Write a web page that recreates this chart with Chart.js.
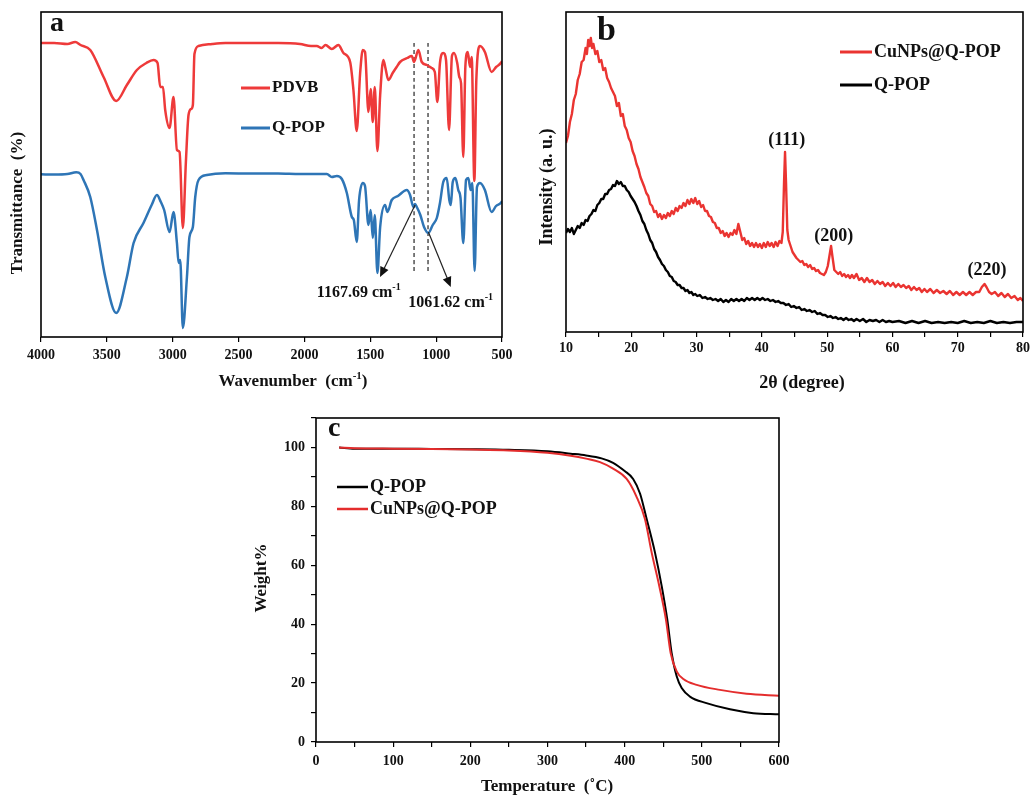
<!DOCTYPE html>
<html>
<head>
<meta charset="utf-8">
<script src="https://cdn.jsdelivr.net/npm/chart.js@4.4.0/dist/chart.umd.min.js"></script>
<style>
html, body { margin: 0; padding: 0; background: #fff; }
body { width: 1033px; height: 797px; position: relative; overflow: hidden; }
canvas { position: absolute; }
#ftir { left: 0; top: 0; }
#xrd { left: 520px; top: 0; }
#tga { left: 230px; top: 400px; }
</style>
</head>
<body>
<canvas id="ftir" width="520" height="400"></canvas>
<canvas id="xrd" width="513" height="400"></canvas>
<canvas id="tga" width="570" height="397"></canvas>
<script>
// ---- (a) FTIR, transmittance in arbitrary units ----
const pdvbWave = [4000, 3900, 3800, 3740, 3700, 3626, 3525, 3429, 3348, 3272, 3200, 3146, 3115, 3095, 3074, 3057, 3024, 2994, 2968, 2948,
  2923, 2900, 2880, 2860, 2847, 2835, 2804, 2700, 2600, 2400, 2200, 2033, 1950, 1906, 1870, 1840, 1792, 1742, 1704, 1653,
  1628, 1603, 1577, 1557, 1540, 1514, 1497, 1481, 1466, 1446, 1425, 1401, 1385, 1363, 1330, 1300, 1274, 1220, 1185, 1168,
  1135, 1109, 1071, 1034, 1010, 991, 971, 946, 925, 902, 880, 864, 840, 824, 811, 794, 778, 760, 743, 730,
  710, 695, 667, 630, 579, 545, 503, 500];
const pdvbT = [294, 294, 293, 295, 292, 287, 260, 236, 252, 267, 274, 277, 274, 250, 250, 227, 209, 240, 187, 185,
  109, 175, 222, 228, 232, 283, 291, 293, 294, 294, 294, 293, 291, 291, 289, 292, 288, 292, 284, 275,
  247, 206, 264, 287, 285, 225, 248, 215, 250, 186, 242, 277, 269, 257, 264, 270, 275, 279, 281, 275,
  287, 275, 272, 269, 265, 235, 274, 284, 277, 207, 281, 284, 274, 260, 254, 180, 271, 285, 270, 280,
  156, 257, 291, 285, 265, 270, 275, 276];

const qpopWave = [4000, 3900, 3800, 3732, 3700, 3677, 3626, 3575, 3512, 3429, 3348, 3297, 3222, 3160, 3120, 3090, 3065, 3024, 2994, 2968,
  2955, 2943, 2923, 2892, 2873, 2847, 2829, 2804, 2741, 2600, 2400, 2200, 2033, 1900, 1830, 1792, 1754, 1716, 1678, 1640,
  1625, 1603, 1585, 1557, 1540, 1514, 1497, 1481, 1466, 1446, 1425, 1388, 1370, 1337, 1290, 1223, 1198, 1173, 1160, 1147,
  1120, 1092, 1059, 1026, 995, 971, 946, 920, 900, 889, 874, 854, 832, 815, 794, 773, 756, 738, 725, 708,
  690, 667, 630, 579, 545, 503, 500];
const qpopT = [162.7, 162.5, 163, 164.7, 163, 157, 140, 107, 60, 24, 60, 94, 114, 132, 142, 135, 127, 105, 125, 94,
  74, 77, 9, 60, 100, 110, 140, 157, 162, 163.7, 163.5, 163.5, 163, 163, 163, 160, 161, 158, 144, 120,
  117, 95, 137, 154, 151, 112, 127, 99, 122, 64, 110, 132, 125, 137, 141, 147, 142, 130, 133, 130,
  122, 110, 104, 112, 119, 134, 155, 159, 137, 132, 155, 159, 147, 139, 94, 157, 159, 147, 154, 66,
  150, 154, 147, 125, 131, 135, 136];

const markWave = [1167.69, 1061.62];
const markTop = 294;
const markBottom = 65;
const noteText = ['1167.69 cm', '1061.62 cm'];
const noteWave = [1906, 1211];
const noteT = [44, 34];
const arrowFromWave = [1160, 1059];
const arrowFromT = [132, 105];
const arrowToWave = [1426, 889];
const arrowToT = [60, 50];

// ---- (b) XRD, intensity in arbitrary units ----
const xrdCuNPs = [[10.0,189],[10.3,196],[10.6,210],[10.9,218],[11.2,232],[11.5,238],[11.8,252],[12.1,258],[12.4,270],[12.7,272],
  [13.0,284],[13.2,278],[13.4,292],[13.6,286],[13.8,294],[14.0,284],[14.2,288],[14.5,278],[14.8,281],[15.1,270],
  [15.4,272],[15.7,262],[16.0,264],[16.3,254],[16.6,250],[16.9,244],[17.2,240],[17.5,236],[17.8,226],[18.1,229],
  [18.4,216],[18.7,218],[19.0,206],[19.3,202],[19.6,194],[19.9,190],[20.2,181],[20.5,176],[20.8,168],[21.1,163],
  [21.4,155],[21.7,150],[22.0,145],[22.3,139],[22.6,136],[22.9,128],[23.2,126],[23.5,120],[23.8,121],[24.1,115],
  [24.4,118],[24.7,113],[25.0,117],[25.3,114],[25.6,119],[25.9,116],[26.2,121],[26.5,118],[26.8,124],[27.1,121],
  [27.4,126],[27.7,124],[28.0,129],[28.3,126],[28.6,132],[28.9,128],[29.2,133],[29.5,129],[29.8,134],[30.1,128],
  [30.4,131],[30.7,125],[31.0,127],[31.3,121],[31.6,121],[31.9,116],[32.2,115],[32.5,110],[32.8,109],[33.1,104],
  [33.4,104],[33.7,99],[34.0,101],[34.3,96],[34.6,99],[34.9,95],[35.2,99],[35.5,97],[35.8,102],[36.1,98],
  [36.4,108],[36.7,100],[37.0,92],[37.3,94],[37.6,88],[37.9,91],[38.2,86],[38.5,89],[38.8,85],[39.1,89],
  [39.4,85],[39.7,88],[40.0,84],[40.3,89],[40.6,85],[40.9,90],[41.2,86],[41.5,89],[41.8,85],[42.1,90],
  [42.4,86],[42.7,91],[43.0,89],[43.2,100],[43.4,150],[43.55,180],[43.7,150],[43.9,102],[44.1,92],[44.4,86],
  [44.7,80],[45.0,77],[45.3,74],[45.6,72],[45.9,70],[46.2,71],[46.5,67],[46.8,68],[47.1,65],[47.4,67],
  [47.7,63],[48.0,64],[48.3,61],[48.6,62],[48.9,59],[49.2,58],[49.5,57],[49.8,60],[50.1,66],[50.4,78],
  [50.6,86],[50.8,76],[51.1,62],[51.4,60],[51.7,58],[52.0,60],[52.3,56],[52.6,58],[52.9,55],[53.2,57],
  [53.5,54],[53.8,57],[54.1,54],[54.5,58],[54.9,52],[55.3,54],[55.7,50],[56.1,54],[56.5,50],[56.9,52],
  [57.3,48],[57.7,51],[58.1,48],[58.5,50],[58.9,46],[59.3,49],[59.7,46],[60.1,49],[60.5,45],[60.9,48],
  [61.3,45],[61.7,47],[62.1,44],[62.5,46],[62.9,42],[63.3,45],[63.7,42],[64.1,44],[64.5,40],[64.9,43],
  [65.3,40],[65.8,43],[66.3,39],[66.8,42],[67.3,39],[67.8,41],[68.3,38],[68.8,41],[69.3,37],[69.8,40],
  [70.3,37],[70.8,40],[71.3,37],[71.8,40],[72.3,37],[72.8,40],[73.3,40],[73.7,45],[74.1,48],[74.4,45],
  [74.8,40],[75.2,38],[75.7,40],[76.2,36],[76.7,39],[77.2,35],[77.7,38],[78.2,34],[78.7,36],[79.2,32],
  [79.6,34],[80.0,31]];
const xrdQPOP = [[10.0,99],[10.3,103],[10.6,100],[10.9,104],[11.2,98],[11.5,102],[11.8,106],[12.1,104],[12.4,109],[12.7,107],
  [13.0,112],[13.3,111],[13.6,116],[13.9,118],[14.2,122],[14.5,121],[14.8,127],[15.1,129],[15.4,133],[15.7,133],
  [16.0,138],[16.3,138],[16.6,142],[16.9,143],[17.2,147],[17.5,146],[17.8,151],[18.1,148],[18.4,150],[18.7,146],
  [19.0,146],[19.3,142],[19.6,140],[19.9,136],[20.2,133],[20.5,130],[20.8,126],[21.1,121],[21.4,117],[21.7,111],
  [22.0,108],[22.3,102],[22.6,98],[22.9,92],[23.2,89],[23.5,83],[23.8,80],[24.1,75],[24.4,72],[24.7,68],
  [25.0,66],[25.3,62],[25.6,60],[25.9,56],[26.2,55],[26.5,51],[26.8,50],[27.1,47],[27.4,47],[27.7,44],
  [28.0,44],[28.3,41],[28.6,42],[28.9,39],[29.2,40],[29.5,37],[29.8,38],[30.1,36],[30.5,37],[30.9,34],
  [31.3,35],[31.7,33],[32.1,34],[32.5,32],[32.9,33],[33.3,31],[33.7,33],[34.1,30],[34.5,32],[34.9,30],
  [35.3,33],[35.7,31],[36.1,33],[36.5,31],[36.9,33],[37.3,31],[37.7,34],[38.1,32],[38.5,34],[38.9,32],
  [39.3,34],[39.7,32],[40.1,34],[40.5,32],[40.9,33],[41.3,31],[41.7,32],[42.1,30],[42.5,31],[42.9,29],
  [43.3,29],[43.7,27],[44.1,28],[44.5,25],[44.9,26],[45.3,24],[45.7,25],[46.1,22],[46.5,23],[46.9,21],
  [47.3,22],[47.7,20],[48.1,21],[48.5,18],[48.9,19],[49.3,17],[49.7,17],[50.1,15],[50.5,16],[50.9,14],
  [51.3,15],[51.7,13],[52.1,14],[52.5,12],[52.9,14],[53.3,12],[53.7,13],[54.1,11],[54.5,13],[55.0,11],
  [55.5,13],[56.0,10],[56.5,12],[57.0,11],[57.5,12],[58.0,10],[58.5,12],[59.0,10],[59.5,11],[60.0,10],
  [61.0,11],[62.0,9],[63.0,11],[64.0,9],[65.0,11],[66.0,9],[67.0,10],[68.0,9],[69.0,10],[70.0,9],
  [71.0,11],[72.0,9],[73.0,10],[74.0,9],[75.0,11],[76.0,9],[77.0,10],[78.0,9],[79.0,10],[80.0,10]];
const peakText = ['(111)', '(200)', '(220)'];
const peakTheta = [43.8, 51.0, 74.5];
const peakInt = [192, 96, 62];

// ---- (c) TGA ----
const tgaQTemp = [30, 50, 100, 150, 200, 250, 300, 330, 350, 370, 385, 400, 411, 420, 428.5, 439.3, 448, 455.2, 460.9, 467.4,
  473.9, 484.6, 506, 536.5, 566.7, 600];
const tgaQWeight = [100.0, 99.6, 99.6, 99.5, 99.4, 99.2, 98.7, 97.9, 97.3, 96.3, 94.8, 92.0, 89.3, 84.3, 75.7, 64.3, 52.9, 41.6, 30.2, 22.3,
  18.3, 15.4, 13.2, 11.1, 9.8, 9.4];
const tgaCuTemp = [30, 50, 100, 150, 200, 250, 300, 330, 350, 368, 385, 402.6, 415, 426.3, 435, 444.9, 453.5, 459.6, 467.4, 476,
  493.3, 523.5, 558, 600];
const tgaCuWeight = [100.0, 99.7, 99.6, 99.5, 99.3, 99.0, 98.2, 97.2, 96.2, 95.0, 92.8, 89.3, 83.5, 75.7, 64.3, 52.9, 41.6, 30.2, 24.0, 21.4,
  19.4, 17.7, 16.4, 15.7];

const SERIF = '"Liberation Serif", "Times New Roman", serif';
const tickFont = { family: SERIF, size: 14, weight: 'bold' };

function pts(xs, ys) {
  return xs.map((x, i) => ({ x: x, y: ys[i] }));
}
function pairs(list) {
  return list.map(p => ({ x: p[0], y: p[1] }));
}

// text with optional superscript parts: parts = ['text', ['sup', true], ...]
function drawRich(ctx, t) {
  const big = 'bold ' + t.size + 'px ' + SERIF;
  const small = 'bold ' + Math.round(t.size * 0.62) + 'px ' + SERIF;
  const parts = t.parts.map(p => typeof p === 'string' ? [p, false] : p);
  let w = 0;
  parts.forEach(p => { ctx.font = p[1] ? small : big; w += ctx.measureText(p[0]).width; });
  ctx.save();
  ctx.translate(t.x, t.y);
  if (t.rot) ctx.rotate(-Math.PI / 2);
  ctx.textAlign = 'left';
  ctx.textBaseline = 'middle';
  ctx.fillStyle = t.color || '#111';
  let x = t.align === 'left' ? 0 : -w / 2;
  parts.forEach(p => {
    ctx.font = p[1] ? small : big;
    ctx.fillText(p[0], x, p[1] ? -t.size * 0.33 : 0);
    x += ctx.measureText(p[0]).width;
  });
  ctx.restore();
}

// frame, titles, legend, annotations
const decor = {
  id: 'decor',
  afterDraw(chart, args, o) {
    const ctx = chart.ctx;
    const a = chart.chartArea;
    const sx = chart.scales.x, sy = chart.scales.y;
    ctx.save();
    ctx.strokeStyle = '#000';
    ctx.lineWidth = 1.6;
    ctx.strokeRect(a.left, a.top, a.right - a.left, a.bottom - a.top);

    (o.texts || []).forEach(t => drawRich(ctx, t));

    if (o.legend) {
      const L = o.legend;
      let row = 0;
      chart.data.datasets.forEach(ds => {
        if (!ds.inLegend) return;
        const y = L.y + row * L.dy;
        ctx.strokeStyle = ds.borderColor;
        ctx.lineWidth = L.width;
        ctx.beginPath();
        ctx.moveTo(L.x, y);
        ctx.lineTo(L.x + L.len, y);
        ctx.stroke();
        drawRich(ctx, { x: L.x + L.len + 2, y: y, parts: [ds.label], size: L.size, align: 'left' });
        row++;
      });
    }

    (o.arrows || []).forEach(ar => {
      const x0 = sx.getPixelForValue(ar[0]), y0 = sy.getPixelForValue(ar[1]);
      const x1 = sx.getPixelForValue(ar[2]), y1 = sy.getPixelForValue(ar[3]);
      const ang = Math.atan2(y1 - y0, x1 - x0);
      const hl = 10, hw = 4.5;
      ctx.strokeStyle = '#222';
      ctx.fillStyle = '#111';
      ctx.lineWidth = 1.2;
      ctx.beginPath();
      ctx.moveTo(x0, y0);
      ctx.lineTo(x1 - Math.cos(ang) * hl * 0.8, y1 - Math.sin(ang) * hl * 0.8);
      ctx.stroke();
      ctx.beginPath();
      ctx.moveTo(x1, y1);
      ctx.lineTo(x1 - Math.cos(ang) * hl - Math.sin(ang) * hw, y1 - Math.sin(ang) * hl + Math.cos(ang) * hw);
      ctx.lineTo(x1 - Math.cos(ang) * hl + Math.sin(ang) * hw, y1 - Math.sin(ang) * hl - Math.cos(ang) * hw);
      ctx.closePath();
      ctx.fill();
    });

    (o.notes || []).forEach(n => {
      drawRich(ctx, { x: sx.getPixelForValue(n.x), y: sy.getPixelForValue(n.y), parts: n.parts, size: n.size, align: n.align });
    });
    ctx.restore();
  }
};

function tickGrid() {
  return { drawOnChartArea: false, drawTicks: true, tickLength: 5, color: '#000', lineWidth: 1.2 };
}

// ---------- panel a ----------
const ftirSets = [
  { label: 'PDVB', data: pts(pdvbWave, pdvbT), borderColor: '#ee3a3a', borderWidth: 2.5, inLegend: true },
  { label: 'Q-POP', data: pts(qpopWave, qpopT), borderColor: '#2e75b6', borderWidth: 2.5, inLegend: true }
];
markWave.forEach(w => {
  ftirSets.push({ label: '', data: [{ x: w, y: markTop }, { x: w, y: markBottom }],
    borderColor: '#444', borderWidth: 1.4, borderDash: [4, 3] });
});

new Chart(document.getElementById('ftir'), {
  type: 'line',
  data: { datasets: ftirSets },
  options: {
    responsive: false,
    animation: false,
    layout: { padding: { left: 41, top: 12, right: 18, bottom: 0 } },
    elements: { point: { radius: 0 }, line: { cubicInterpolationMode: 'monotone', borderJoinStyle: 'round' } },
    scales: {
      x: {
        type: 'linear', reverse: true, min: 500, max: 4000,
        afterFit: s => { s.height = 63; },
        ticks: { stepSize: 500, font: tickFont, color: '#111', padding: 5, maxRotation: 0, autoSkip: false,
          callback: v => String(v) },
        grid: tickGrid(),
        border: { display: false }
      },
      y: { display: false, min: 0, max: 325 }
    },
    plugins: {
      legend: { display: false },
      tooltip: { enabled: false },
      decor: {
        texts: [
          { x: 50, y: 24, parts: ['a'], size: 28, align: 'left' },
          { x: 293, y: 382, parts: ['Wavenumber  (cm', ['-1', true], ')'], size: 17 },
          { x: 18, y: 203, parts: ['Transmittance  (%)'], size: 17, rot: true }
        ],
        legend: { x: 241, y: 88, dy: 40, len: 29, width: 3, size: 17 },
        arrows: arrowFromWave.map((w, i) => [w, arrowFromT[i], arrowToWave[i], arrowToT[i]]),
        notes: noteText.map((t, i) => ({ x: noteWave[i], y: noteT[i], parts: [t, ['-1', true]], size: 16, align: 'left' }))
      }
    }
  },
  plugins: [decor]
});

// ---------- panel b ----------
new Chart(document.getElementById('xrd'), {
  type: 'line',
  data: {
    datasets: [
      { label: 'CuNPs@Q-POP', data: pairs(xrdCuNPs), borderColor: '#ea3431', borderWidth: 2.4, inLegend: true },
      { label: 'Q-POP', data: pairs(xrdQPOP), borderColor: '#000000', borderWidth: 2.4, inLegend: true }
    ]
  },
  options: {
    responsive: false,
    animation: false,
    layout: { padding: { left: 46, top: 12, right: 9, bottom: 0 } },
    elements: { point: { radius: 0 }, line: { tension: 0, borderJoinStyle: 'round' } },
    scales: {
      x: {
        type: 'linear', min: 10, max: 80,
        afterFit: s => { s.height = 68; },
        ticks: { stepSize: 5, font: tickFont, color: '#111', padding: 3, maxRotation: 0, autoSkip: false,
          callback: v => (v % 10 === 0 ? String(v) : '') },
        grid: tickGrid(),
        border: { display: false }
      },
      y: { display: false, min: 0, max: 320 }
    },
    plugins: {
      legend: { display: false },
      tooltip: { enabled: false },
      decor: {
        texts: [
          { x: 77, y: 31, parts: ['b'], size: 34, align: 'left' },
          { x: 282, y: 383, parts: ['2θ (degree)'], size: 18 },
          { x: 27, y: 187, parts: ['Intensity (a. u.)'], size: 18, rot: true }
        ],
        legend: { x: 320, y: 52, dy: 33, len: 32, width: 3, size: 18 },
        notes: peakText.map((t, i) => ({ x: peakTheta[i], y: peakInt[i], parts: [t], size: 18, align: 'center' }))
      }
    }
  },
  plugins: [decor]
});

// ---------- panel c ----------
new Chart(document.getElementById('tga'), {
  type: 'line',
  data: {
    datasets: [
      { label: 'Q-POP', data: pts(tgaQTemp, tgaQWeight), borderColor: '#000000', borderWidth: 2, inLegend: true, order: 1 },
      { label: 'CuNPs@Q-POP', data: pts(tgaCuTemp, tgaCuWeight), borderColor: '#e42d2d', borderWidth: 2, inLegend: true, order: 0 }
    ]
  },
  options: {
    responsive: false,
    animation: false,
    layout: { padding: { left: 0, top: 18, right: 21, bottom: 0 } },
    elements: { point: { radius: 0 }, line: { cubicInterpolationMode: 'monotone' } },
    scales: {
      x: {
        type: 'linear', min: 0, max: 600,
        afterFit: s => { s.height = 55; },
        ticks: { stepSize: 50, font: tickFont, color: '#111', padding: 6, maxRotation: 0, autoSkip: false,
          callback: v => (v % 100 === 0 ? String(v) : '') },
        grid: tickGrid(),
        border: { display: false }
      },
      y: {
        min: 0, max: 110,
        afterFit: s => { s.width = 86; },
        ticks: { stepSize: 10, font: tickFont, color: '#111', padding: 6, autoSkip: false,
          callback: v => (v % 20 === 0 && v <= 100 ? String(v) : '') },
        grid: tickGrid(),
        border: { display: false }
      }
    },
    plugins: {
      legend: { display: false },
      tooltip: { enabled: false },
      decor: {
        texts: [
          { x: 98, y: 29, parts: ['c'], size: 28, align: 'left' },
          { x: 317, y: 387, parts: ['Temperature  (˚C)'], size: 17 },
          { x: 32, y: 178, parts: ['Weight%'], size: 17, rot: true }
        ],
        legend: { x: 107, y: 87, dy: 22, len: 31, width: 2.5, size: 18 }
      }
    }
  },
  plugins: [decor]
});
</script>
</body>
</html>
